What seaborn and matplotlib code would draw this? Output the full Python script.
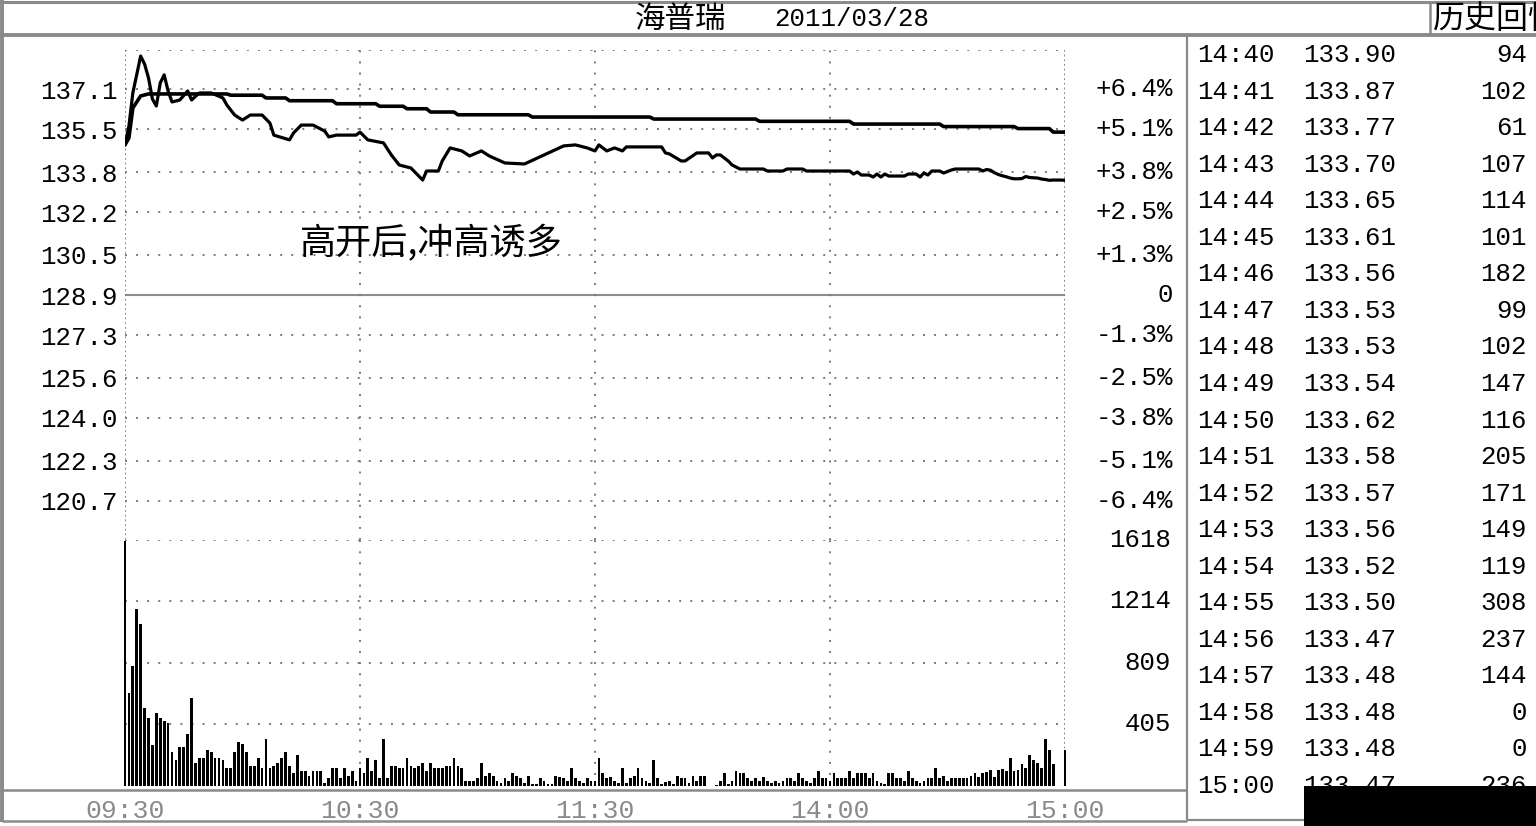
import numpy as np
import pandas as pd
import matplotlib
matplotlib.use("Agg")
import matplotlib.pyplot as plt
import matplotlib.transforms as mtransforms
from matplotlib.lines import Line2D
from matplotlib.patches import Rectangle
import seaborn as sns

# ---------------- data ----------------
title_name = "海普瑞"
title_date = "2011/03/28"
header_right = "历史回忆"
annotation = "高开后,冲高诱多"

price_minutes = [0, 1, 2, 4, 5, 6, 7, 8, 9, 10, 11, 12, 14, 16, 17, 19, 22, 25, 26, 28,
                 30, 32, 35, 37, 38, 42, 43, 45, 48, 51, 52, 54, 59, 60, 62, 66, 68, 70, 73, 76,
                 77, 80, 81, 83, 86, 88, 91, 93, 97, 102, 107, 112, 115, 118, 120, 121, 123, 125, 127, 128,
                 137, 138, 139, 142, 143, 146, 149, 150, 151, 152, 154, 155, 157, 163, 164, 168, 169, 173, 174, 185,
                 186, 187, 188, 190, 191, 192, 193, 194, 195, 199, 200, 202, 203, 204, 205, 206, 208, 209, 211, 212,
                 218, 219, 220, 221, 222, 223, 224, 225, 226, 227, 228, 229, 230, 231, 232, 233, 234, 235, 236, 237,
                 238, 239, 240]
price_values = [134.88, 135.63, 136.95, 138.42, 138.10, 137.55, 136.71, 136.43, 137.35, 137.67, 137.03, 136.59, 136.67, 137.03, 136.67, 136.95, 136.95, 136.75, 136.47, 136.07,
                135.87, 136.07, 136.07, 135.75, 135.27, 135.08, 135.35, 135.67, 135.67, 135.43, 135.20, 135.27, 135.27, 135.39, 135.08, 134.96, 134.48, 134.08, 133.96, 133.48,
                133.84, 133.84, 134.24, 134.76, 134.64, 134.44, 134.64, 134.44, 134.16, 134.12, 134.48, 134.84, 134.88, 134.76, 134.64, 134.88, 134.64, 134.76, 134.64, 134.80,
                134.80, 134.56, 134.52, 134.24, 134.24, 134.56, 134.56, 134.36, 134.48, 134.48, 134.24, 134.08, 133.92, 133.92, 133.84, 133.84, 133.92, 133.92, 133.84, 133.84,
                133.72, 133.80, 133.68, 133.68, 133.60, 133.72, 133.60, 133.72, 133.64, 133.64, 133.72, 133.72, 133.60, 133.76, 133.68, 133.84, 133.84, 133.76, 133.88, 133.92,
                133.92, 133.84, 133.90, 133.87, 133.77, 133.70, 133.65, 133.61, 133.56, 133.53, 133.53, 133.54, 133.62, 133.58, 133.57, 133.56, 133.52, 133.50, 133.47, 133.48,
                133.48, 133.48, 133.47]

avg_minutes = [0, 1, 2, 4, 6, 26, 27, 35, 36, 41, 42, 53, 54, 64, 65, 71, 72, 77, 78, 84,
               85, 103, 104, 134, 135, 161, 162, 185, 186, 208, 209, 227, 228, 236, 237, 240]
avg_values = [134.88, 135.16, 136.35, 136.83, 136.91, 136.91, 136.86, 136.86, 136.75, 136.75,
              136.64, 136.64, 136.52, 136.52, 136.42, 136.42, 136.32, 136.32, 136.19, 136.19,
              136.08, 136.08, 135.99, 135.99, 135.91, 135.91, 135.82, 135.82, 135.71, 135.71,
              135.61, 135.61, 135.53, 135.53, 135.39, 135.39]

volumes = [1610, 614, 789, 1162, 1063, 511, 445, 270, 478, 445,
           427, 412, 226, 171, 259, 259, 342, 581, 153, 186,
           186, 237, 226, 186, 186, 171, 121, 121, 226, 292,
           274, 226, 134, 134, 186, 121, 307, 121, 134, 153,
           186, 226, 134, 88, 204, 101, 101, 68, 101, 101,
           101, 22, 50, 121, 121, 50, 121, 68, 101, 35,
           121, 88, 186, 101, 171, 50, 307, 50, 134, 134,
           121, 121, 186, 134, 121, 134, 153, 101, 153, 121,
           121, 121, 134, 134, 186, 134, 121, 35, 35, 35,
           50, 153, 68, 88, 68, 35, 22, 50, 35, 88,
           68, 50, 22, 68, 13, 13, 50, 35, 13, 13,
           68, 60, 50, 35, 121, 50, 35, 22, 50, 35,
           35, 186, 88, 50, 61, 35, 22, 121, 22, 50,
           68, 121, 50, 35, 22, 171, 50, 13, 28, 35,
           13, 68, 50, 50, 22, 68, 35, 68, 68, 0,
           0, 8, 35, 88, 13, 35, 101, 88, 88, 50,
           35, 50, 35, 61, 35, 22, 35, 22, 35, 50,
           50, 35, 88, 50, 35, 22, 50, 101, 50, 50,
           35, 88, 50, 50, 50, 101, 50, 88, 88, 88,
           50, 88, 35, 22, 13, 88, 88, 50, 50, 35,
           101, 50, 35, 22, 35, 50, 50, 121, 50, 68,
           35, 50, 50, 50, 50, 50, 68, 88, 61, 88,
           94, 102, 61, 107, 114, 101, 182, 99, 102, 147,
           116, 205, 171, 149, 119, 308, 237, 144, 0, 0,
           236]

price_ticks = [137.1, 135.5, 133.8, 132.2, 130.5, 128.9, 127.3, 125.6, 124.0, 122.3, 120.7]
pct_labels = ["+6.4%", "+5.1%", "+3.8%", "+2.5%", "+1.3%", "0",
              "-1.3%", "-2.5%", "-3.8%", "-5.1%", "-6.4%"]
prev_close = 128.9
vol_ticks = [1618, 1214, 809, 405]
time_tick_minutes = [0, 60, 120, 180, 240]
time_tick_labels = ["09:30", "10:30", "11:30", "14:00", "15:00"]
table_times = ["14:40", "14:41", "14:42", "14:43", "14:44", "14:45", "14:46", "14:47",
               "14:48", "14:49", "14:50", "14:51", "14:52", "14:53", "14:54", "14:55",
               "14:56", "14:57", "14:58", "14:59", "15:00"]
table_prices = price_values[-21:]
table_vols = volumes[-21:]

# ---------------- style ----------------
sns.set_style("white")
MONO = ["Liberation Mono", "DejaVu Sans Mono"]
CJK = ["Noto Sans CJK SC", "DejaVu Sans"]
plt.rcParams["font.family"] = MONO + CJK

W, H = 1536, 826
GRID = "#7a7a7a"
FRAME = "#8a8a8a"
DOT = (0, (1, 4.7))
DENSE = (0, (1, 1.6))

def fx(px):
    return px / W

def fy(py):
    return 1 - py / H

fig = plt.figure(figsize=(W / 100, H / 100), dpi=100, facecolor="white")

ax_p = fig.add_axes([fx(125), fy(540), fx(1065) - fx(125), fy(50) - fy(540)])
ax_v = fig.add_axes([fx(125), fy(786), fx(1065) - fx(125), fy(540) - fy(786)])

# price panel
ptop = prev_close + 245 / 25.1
pbot = prev_close - 245 / 25.1
ax_p.set_xlim(0, 240)
ax_p.set_ylim(pbot, ptop)
for t in price_ticks:
    if t == prev_close:
        ax_p.axhline(t, color="#8c8c8c", lw=1.5, zorder=1)
    else:
        ax_p.axhline(t, color=GRID, lw=1.4, ls=DOT, zorder=1)
ax_p.axhline(ptop, color=GRID, lw=1.4, ls=DOT, zorder=1)
for m in time_tick_minutes[1:-1]:
    ax_p.axvline(m, color=GRID, lw=1.4, ls=DOT, zorder=1)
for m in (time_tick_minutes[0], time_tick_minutes[-1]):
    ax_p.axvline(m, color=GRID, lw=1.3, ls=DENSE, zorder=1)

sns.lineplot(x=avg_minutes, y=avg_values, color="black", lw=2.6, ax=ax_p,
             sort=False, estimator=None, zorder=3)
sns.lineplot(x=price_minutes, y=price_values, color="black", lw=2.3, ax=ax_p,
             sort=False, estimator=None, zorder=4)

ax_p.set_yticks(price_ticks, labels=[f"{t:.1f}" for t in price_ticks])
ax_p.tick_params(axis="y", length=0, pad=5, labelsize=18.5, colors="black")
ax_p.set_xticks([])
ax_p.set_xlabel("")
ax_p.set_ylabel("")
for s in ax_p.spines.values():
    s.set_visible(False)

tr_p = mtransforms.blended_transform_factory(ax_p.transAxes, ax_p.transData)
xr = (1173 - 125) / 940
for t, lab in zip(price_ticks, pct_labels):
    ax_p.text(xr, t, lab, transform=tr_p, ha="right", va="center", fontsize=18.5,
              color="black", clip_on=False)

# volume panel
df_vol = pd.DataFrame({"minute": np.arange(len(volumes)), "volume": volumes})
sns.barplot(data=df_vol, x="minute", y="volume", native_scale=True, width=0.72,
            color="black", saturation=1, linewidth=0, errorbar=None, ax=ax_v, zorder=3)
for p in ax_v.patches:
    p.set_clip_on(False)
ax_v.set_xlim(0, 240)
ax_v.set_ylim(0, vol_ticks[0])
for t in vol_ticks:
    ax_v.axhline(t, color=GRID, lw=1.4, ls=DOT, zorder=1)
for m in time_tick_minutes[1:-1]:
    ax_v.axvline(m, color=GRID, lw=1.4, ls=DOT, zorder=1)
for m in (time_tick_minutes[0], time_tick_minutes[-1]):
    ax_v.axvline(m, color=GRID, lw=1.3, ls=DENSE, zorder=1)
ax_v.set_yticks([])
ax_v.set_xticks(time_tick_minutes, labels=time_tick_labels)
ax_v.tick_params(axis="x", length=0, pad=9, labelsize=19, colors="#8a8a8a")
ax_v.set_xlabel("")
ax_v.set_ylabel("")
for s in ax_v.spines.values():
    s.set_visible(False)

tr_v = mtransforms.blended_transform_factory(ax_v.transAxes, ax_v.transData)
xv = (1171 - 125) / 940
for t in vol_ticks:
    ax_v.text(xv, t, str(t), transform=tr_v, ha="right", va="center", fontsize=18.5,
              color="black", clip_on=False)

# ---------------- frame ----------------
def hline(y, x0, x1, lw=2.2, color=FRAME):
    fig.add_artist(Line2D([fx(x0), fx(x1)], [fy(y), fy(y)], color=color, lw=lw,
                          transform=fig.transFigure, solid_capstyle="butt"))

def vline(x, y0, y1, lw=2.2, color=FRAME):
    fig.add_artist(Line2D([fx(x), fx(x)], [fy(y0), fy(y1)], color=color, lw=lw,
                          transform=fig.transFigure, solid_capstyle="butt"))

hline(2, 0, W)
hline(35, 0, W, lw=2.8)
vline(2, 0, 822, lw=2.8)
vline(1430, 2, 35, lw=1.8)
vline(1187, 35, 820, lw=1.6)
hline(790, 2, 1187, lw=1.8)
hline(821, 2, 1187, lw=1.8)
hline(820, 1187, 1305, lw=1.6)

# header text
fig.text(fx(680), fy(19), title_name, family=CJK, fontsize=22, ha="center", va="center",
         color="black")
fig.text(fx(774), fy(19), title_date, fontsize=18.5, ha="left", va="center", color="black")
fig.text(fx(1433), fy(19), header_right, family=CJK, fontsize=23, ha="left", va="center",
         color="black")

# annotation
fig.text(fx(300), fy(244), annotation, family=CJK, fontsize=26, ha="left", va="center",
         color="black")

# quote table
for i, (tm, pr, vo) in enumerate(zip(table_times, table_prices, table_vols)):
    y = 55 + i * 36.55
    fig.text(fx(1197), fy(y), tm, fontsize=18.5, ha="left", va="center", color="black")
    fig.text(fx(1303), fy(y), f"{pr:.2f}", fontsize=18.5, ha="left", va="center", color="black")
    fig.text(fx(1527), fy(y), str(vo), fontsize=18.5, ha="right", va="center", color="black")

fig.add_artist(Rectangle((fx(1304), 0), fx(W) - fx(1304), fy(786), transform=fig.transFigure,
                         facecolor="black", edgecolor="none", zorder=10))

fig.savefig("out.png", dpi=100, facecolor="white")
